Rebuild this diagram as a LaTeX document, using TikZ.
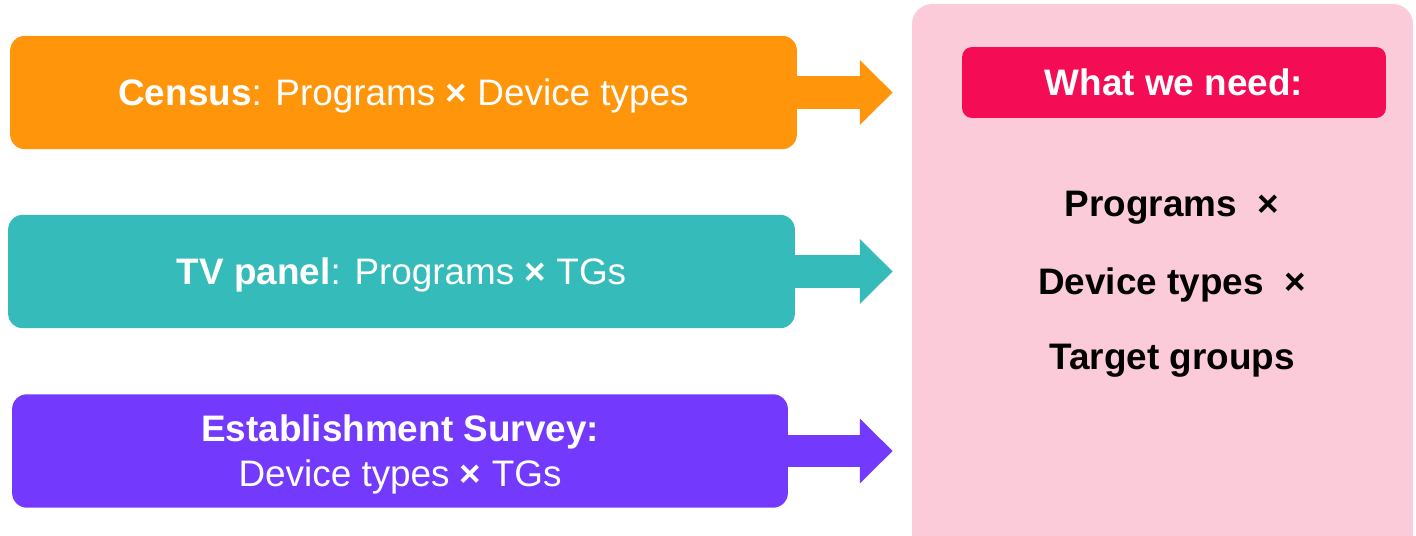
\documentclass[tikz,border=0pt]{standalone}
\usepackage{fontspec}
\setmainfont{Liberation Sans}
\usetikzlibrary{arrows.meta}

\definecolor{censusorange}{RGB}{255,149,10}
\definecolor{panelteal}{RGB}{52,187,186}
\definecolor{surveypurple}{RGB}{115,57,252}
\definecolor{needpink}{RGB}{252,203,218}
\definecolor{needred}{RGB}{244,12,85}

\newcommand{\bytimes}{\textbf{×}}

\begin{document}
\begin{tikzpicture}[x=0.02cm, y=-0.02cm,
    every node/.style={font=\fontsize{21}{25.5}\selectfont, inner sep=0pt},
    source/.style={rectangle, rounded corners=0.3cm, minimum height=2.27cm,
        text=white, align=center, text height=15pt, text depth=0pt},
    bigarrow/.style={line width=18.7pt,
        -{Triangle[length=18.7pt, width=35.7pt]}, shorten >=10.8pt}]
    \clip (0,0) rectangle (1416,536);

    % what we need
    \node[fill=needpink, rounded corners=0.4cm, minimum width=10.02cm,
        minimum height=11.92cm] (need) at (1162.5,302) {};
    \node[fill=needred, rounded corners=0.2cm, minimum width=8.48cm,
        minimum height=1.42cm, text=white, text height=15pt, text depth=0pt]
        (title) at (1174,82.5) {\textbf{What we need:}};
    \begin{scope}[anchor=base]
        \node (programs) at (1172,217) {\textbf{Programs~~×}};
        \node (devices) at (1172,295) {\textbf{Device types~~×}};
        \node (groups) at (1172,370) {\textbf{Target groups}};
    \end{scope}

    % sources
    \node[source, fill=censusorange, minimum width=15.74cm] (census)
        at (403.5,92.5) {\textbf{Census}: Programs \bytimes{} Device types};
    \node[source, fill=panelteal, minimum width=15.74cm] (tvpanel)
        at (401.5,271.5) {\textbf{TV panel}: Programs \bytimes{} TGs};
    \node[source, fill=surveypurple, minimum width=15.52cm, text height=40.5pt]
        (survey) at (400,451)
        {\textbf{Establishment Survey:}\\Device types \bytimes{} TGs};

    \foreach \src/\col in {census/censusorange, tvpanel/panelteal, survey/surveypurple}
        \draw[bigarrow, \col] (\src.east) -- (\src.east -| need.west);
\end{tikzpicture}
\end{document}
